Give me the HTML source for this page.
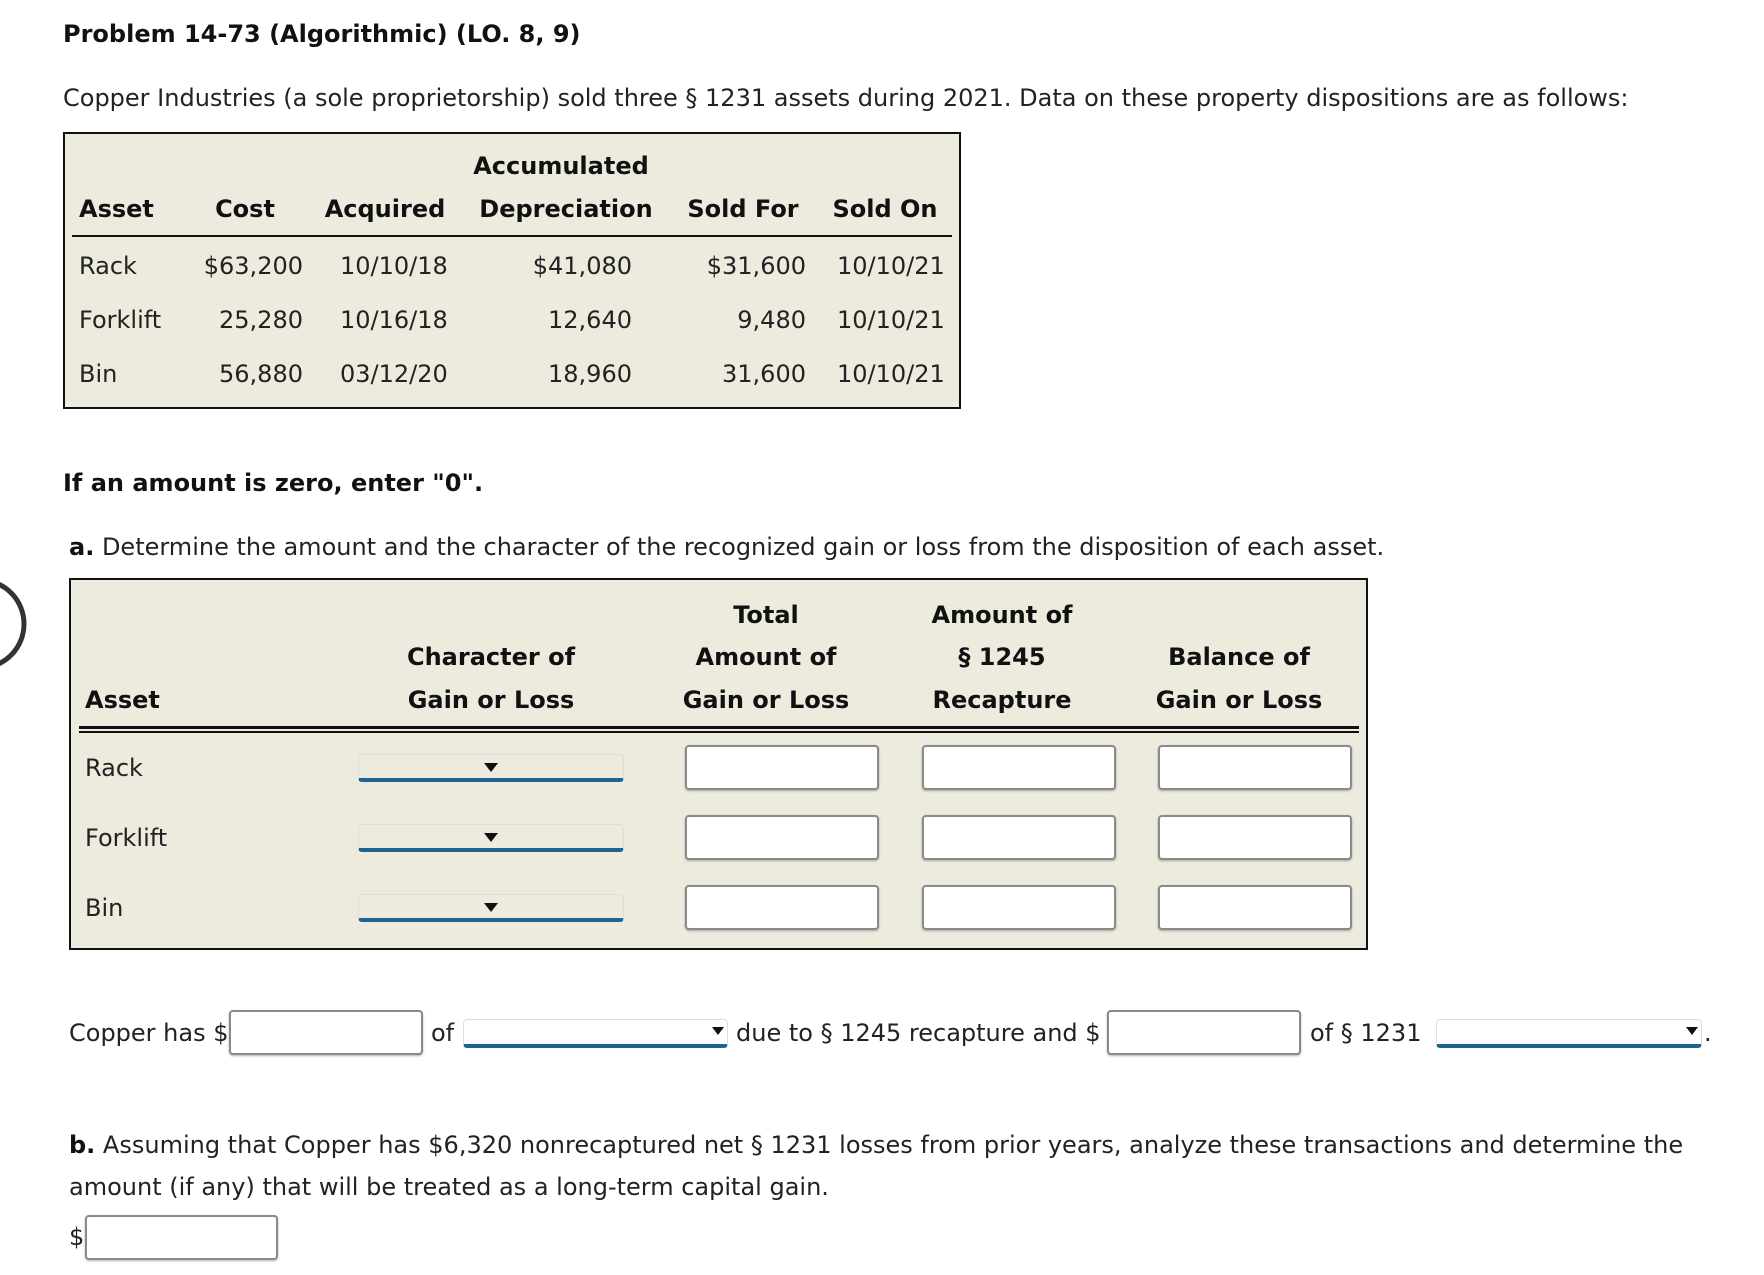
<!DOCTYPE html>
<html><head><meta charset="utf-8"><style>
body{margin:0;width:1764px;height:1275px;background:#fff;position:relative;overflow:hidden;font-family:"DejaVu Sans","Liberation Sans",sans-serif;font-size:24px;color:#222}
.t{position:absolute;white-space:nowrap;line-height:30px;height:30px}
.b{font-weight:bold;color:#111}
.box{position:absolute;background:#ecebde;border:2px solid #111;box-sizing:border-box}
.in{position:absolute;background:#fff;border:2px solid #8a8a8a;border-radius:4px;box-sizing:border-box;box-shadow:0 1px 2px rgba(0,0,0,.3)}
.sel{position:absolute;background:#ecebde;border:1px solid #ddd;border-radius:4px;border-bottom:4px solid #1f6391;box-sizing:border-box}
.sel.w{background:#fff}
.arr{position:absolute;width:0;height:0;border-left:7px solid transparent;border-right:7px solid transparent;border-top:9px solid #111}
.r{text-align:right}.c{text-align:center}
</style></head><body>
<div class="t b" style="left:63px;top:19px">Problem 14-73 (Algorithmic) (LO. 8, 9)</div>
<div class="t" style="left:63px;top:83px">Copper Industries (a sole proprietorship) sold three § 1231 assets during 2021. Data on these property dispositions are as follows:</div>

<div class="box" style="left:63px;top:132px;width:898px;height:277px"></div>
<div style="position:absolute;left:72px;top:235px;width:880px;height:2px;background:#111"></div>
<div class="t b c" style="left:461px;top:151px;width:200px">Accumulated</div>
<div class="t b" style="left:79px;top:194px">Asset</div>
<div class="t b c" style="left:195px;top:194px;width:100px">Cost</div>
<div class="t b c" style="left:305px;top:194px;width:160px">Acquired</div>
<div class="t b c" style="left:466px;top:194px;width:200px">Depreciation</div>
<div class="t b c" style="left:673px;top:194px;width:140px">Sold For</div>
<div class="t b c" style="left:825px;top:194px;width:120px">Sold On</div>

<div class="t" style="left:79px;top:251px">Rack</div>
<div class="t r" style="left:183px;top:251px;width:120px">$63,200</div>
<div class="t" style="left:340px;top:251px">10/10/18</div>
<div class="t r" style="left:500px;top:251px;width:132px">$41,080</div>
<div class="t r" style="left:680px;top:251px;width:126px">$31,600</div>
<div class="t" style="left:837px;top:251px">10/10/21</div>

<div class="t" style="left:79px;top:305px">Forklift</div>
<div class="t r" style="left:183px;top:305px;width:120px">25,280</div>
<div class="t" style="left:340px;top:305px">10/16/18</div>
<div class="t r" style="left:500px;top:305px;width:132px">12,640</div>
<div class="t r" style="left:680px;top:305px;width:126px">9,480</div>
<div class="t" style="left:837px;top:305px">10/10/21</div>

<div class="t" style="left:79px;top:359px">Bin</div>
<div class="t r" style="left:183px;top:359px;width:120px">56,880</div>
<div class="t" style="left:340px;top:359px">03/12/20</div>
<div class="t r" style="left:500px;top:359px;width:132px">18,960</div>
<div class="t r" style="left:680px;top:359px;width:126px">31,600</div>
<div class="t" style="left:837px;top:359px">10/10/21</div>

<div class="t b" style="left:63px;top:468px">If an amount is zero, enter "0".</div>
<div class="t" style="left:69px;top:532px"><b style="color:#111">a.</b> Determine the amount and the character of the recognized gain or loss from the disposition of each asset.</div>

<svg style="position:absolute;left:0;top:570px" width="40" height="110"><circle cx="-20" cy="54" r="44" fill="none" stroke="#333" stroke-width="5"/></svg>

<div class="box" style="left:69px;top:578px;width:1299px;height:372px"></div>
<div style="position:absolute;left:79px;top:726px;width:1280px;height:3px;background:#111"></div>
<div style="position:absolute;left:79px;top:731px;width:1280px;height:2px;background:#111"></div>
<div class="t b c" style="left:636px;top:600px;width:260px">Total</div>
<div class="t b c" style="left:872px;top:600px;width:260px">Amount of</div>
<div class="t b c" style="left:361px;top:642px;width:260px">Character of</div>
<div class="t b c" style="left:636px;top:642px;width:260px">Amount of</div>
<div class="t b c" style="left:872px;top:642px;width:260px">§ 1245</div>
<div class="t b c" style="left:1109px;top:642px;width:260px">Balance of</div>
<div class="t b" style="left:85px;top:685px">Asset</div>
<div class="t b c" style="left:361px;top:685px;width:260px">Gain or Loss</div>
<div class="t b c" style="left:636px;top:685px;width:260px">Gain or Loss</div>
<div class="t b c" style="left:872px;top:685px;width:260px">Recapture</div>
<div class="t b c" style="left:1109px;top:685px;width:260px">Gain or Loss</div>

<div class="t" style="left:85px;top:753px">Rack</div>
<div class="t" style="left:85px;top:823px">Forklift</div>
<div class="t" style="left:85px;top:893px">Bin</div>

<div class="sel" style="left:358px;top:754px;width:266px;height:28px"></div><div class="arr" style="left:484px;top:763px"></div>
<div class="sel" style="left:358px;top:824px;width:266px;height:28px"></div><div class="arr" style="left:484px;top:833px"></div>
<div class="sel" style="left:358px;top:894px;width:266px;height:28px"></div><div class="arr" style="left:484px;top:903px"></div>

<div class="in" style="left:685px;top:745px;width:194px;height:45px"></div>
<div class="in" style="left:922px;top:745px;width:194px;height:45px"></div>
<div class="in" style="left:1158px;top:745px;width:194px;height:45px"></div>
<div class="in" style="left:685px;top:815px;width:194px;height:45px"></div>
<div class="in" style="left:922px;top:815px;width:194px;height:45px"></div>
<div class="in" style="left:1158px;top:815px;width:194px;height:45px"></div>
<div class="in" style="left:685px;top:885px;width:194px;height:45px"></div>
<div class="in" style="left:922px;top:885px;width:194px;height:45px"></div>
<div class="in" style="left:1158px;top:885px;width:194px;height:45px"></div>

<div class="t" style="left:69px;top:1018px">Copper has $</div>
<div class="in" style="left:229px;top:1010px;width:194px;height:45px"></div>
<div class="t" style="left:431px;top:1018px">of</div>
<div class="sel w" style="left:463px;top:1019px;width:265px;height:29px"></div><div class="arr" style="left:712px;top:1027px;border-left-width:6px;border-right-width:6px;border-top-width:8px"></div>
<div class="t" style="left:736px;top:1018px">due to § 1245 recapture and $</div>
<div class="in" style="left:1107px;top:1010px;width:194px;height:45px"></div>
<div class="t" style="left:1310px;top:1018px">of § 1231</div>
<div class="sel w" style="left:1436px;top:1019px;width:266px;height:29px"></div><div class="arr" style="left:1686px;top:1027px;border-left-width:6px;border-right-width:6px;border-top-width:8px"></div>
<div class="t" style="left:1704px;top:1018px">.</div>

<div class="t" style="left:69px;top:1130px"><b style="color:#111">b.</b> Assuming that Copper has $6,320 nonrecaptured net § 1231 losses from prior years, analyze these transactions and determine the</div>
<div class="t" style="left:69px;top:1172px">amount (if any) that will be treated as a long-term capital gain.</div>
<div class="t" style="left:69px;top:1222px">$</div>
<div class="in" style="left:85px;top:1215px;width:193px;height:45px"></div>
</body></html>
